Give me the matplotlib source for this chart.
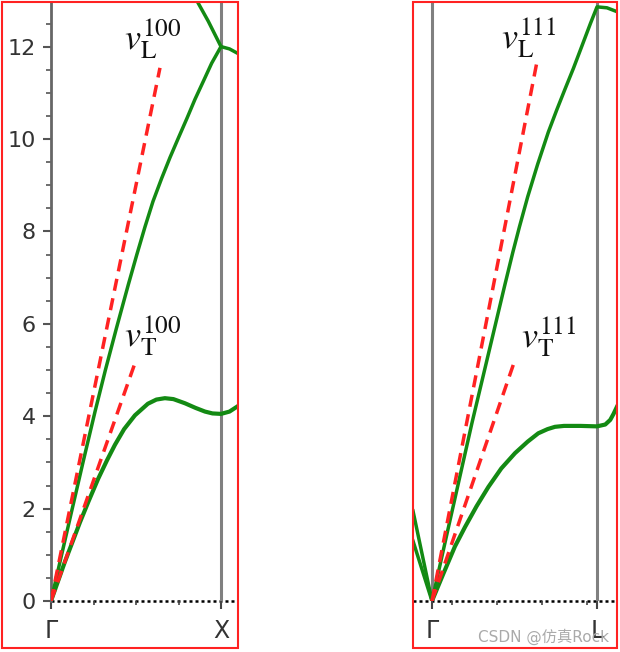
import matplotlib.pyplot as plt
from matplotlib.patches import Rectangle
from matplotlib.ticker import MultipleLocator, FixedLocator

plt.rcParams['mathtext.fontset'] = 'stix'
plt.rcParams['font.family'] = ['DejaVu Sans', 'Noto Sans CJK SC']

# Gamma -> X panel (k along the path, Gamma = 0, X = 1), frequencies in THz
gx_la_k = [0, 0.06, 0.12, 0.19, 0.259, 0.32, 0.386, 0.455, 0.505, 0.553, 0.6, 0.651, 0.7, 0.749, 0.8, 0.847,
           0.9, 0.945, 1.0, 1.05, 1.1]
gx_la_w = [0, 0.96, 1.92, 3.03, 4.1, 5.0, 5.92, 6.85, 7.5, 8.1, 8.65, 9.15, 9.6, 10.02, 10.45, 10.86,
           11.28, 11.64, 12.0, 11.95, 11.85]
gx_up_k = [0.857, 0.925, 1.0]
gx_up_w = [13.0, 12.55, 12.0]
gx_ta_k = [0, 0.08, 0.17, 0.22, 0.278, 0.33, 0.376, 0.43, 0.494, 0.57, 0.62, 0.67, 0.72, 0.788, 0.85, 0.906,
           0.95, 1.0, 1.05, 1.1]
gx_ta_w = [0, 0.83, 1.7, 2.15, 2.65, 3.05, 3.38, 3.72, 4.02, 4.27, 4.36, 4.39, 4.37, 4.28, 4.18, 4.1,
           4.06, 4.05, 4.1, 4.22]
gx_vl = [[0, 0.641], [0, 11.54]]
gx_vt = [[0, 0.494], [0, 5.15]]

# Gamma -> L panel
gl_la_k = [0, 0.1, 0.242, 0.342, 0.442, 0.49, 0.53, 0.58, 0.64, 0.705, 0.756, 0.806, 0.857, 0.907, 0.96,
           1.0, 1.06, 1.118]
gl_la_w = [0, 1.6, 3.85, 5.35, 6.85, 7.55, 8.1, 8.75, 9.45, 10.15, 10.63, 11.08, 11.53, 12.0, 12.5,
           12.86, 12.84, 12.76]
gl_ta_k = [0, 0.07, 0.139, 0.2, 0.27, 0.342, 0.42, 0.503, 0.58, 0.644, 0.7, 0.745, 0.8, 0.9, 1.0, 1.05,
           1.08, 1.1, 1.12]
gl_ta_w = [0, 0.6, 1.18, 1.6, 2.05, 2.47, 2.87, 3.2, 3.45, 3.63, 3.72, 3.77, 3.79, 3.79, 3.78, 3.82,
           3.92, 4.05, 4.2]
gl_left_k = [[-0.115, 0], [-0.115, 0]]
gl_left_w = [[1.95, 0], [1.3, 0]]
gl_vl = [[0, 0.636], [0, 11.67]]
gl_vt = [[0, 0.503], [0, 5.22]]

green = '#138a13'
red = '#ff2222'
gray = '#808080'

fig = plt.figure(figsize=(6.2, 6.52), dpi=100)
ax1 = fig.add_axes([51/620, 1-601/652, 187/620, 599/652])
ax2 = fig.add_axes([413/620, 1-601/652, 204/620, 599/652])

for ax in (ax1, ax2):
    ax.set_ylim(0, 599/46.2)
    for s in ax.spines.values():
        s.set_visible(False)
    ax.axhline(0, color='black', lw=1.8, dashes=(1.2, 1.2), clip_on=False, zorder=1)
    ax.tick_params(axis='x', which='major', length=6, width=1.5, color='#444444',
                   labelsize=17, pad=7, labelcolor='#333333')
    ax.tick_params(axis='x', which='minor', length=3, width=1.2, color='#444444')

# left panel
ax1.set_xlim(0, 1.1)
ax1.spines['left'].set_visible(True)
ax1.spines['left'].set_color('#666666')
ax1.spines['left'].set_linewidth(2)
ax1.yaxis.set_major_locator(MultipleLocator(2))
ax1.yaxis.set_minor_locator(MultipleLocator(0.5))
ax1.tick_params(axis='y', which='major', length=6, width=1.5, color='#555555',
                labelsize=16, labelcolor='#333333', pad=5)
ax1.tick_params(axis='y', which='minor', length=3.5, width=1.2, color='#555555')
ax1.set_xticks([0, 1.0])
ax1.set_xticklabels(['Γ', 'X'])
ax1.xaxis.set_minor_locator(FixedLocator([0.25, 0.5, 0.75]))
ax1.axvline(1.0, color=gray, lw=2.2, zorder=1)

ax1.plot(gx_la_k, gx_la_w, color=green, lw=2.5, zorder=3)
ax1.plot(gx_up_k, gx_up_w, color=green, lw=2.5, zorder=3)
ax1.plot(gx_ta_k, gx_ta_w, color=green, lw=3, zorder=3)
ax1.plot(gx_vl[0], gx_vl[1], color=red, lw=2.5, dashes=(3.5, 2.2), zorder=4)
ax1.plot(gx_vt[0], gx_vt[1], color=red, lw=2.5, dashes=(3.5, 2.2), zorder=4)
ax1.text(0.43, 11.93, r'$v_{\rm L}^{100}$', fontsize=26, color='#111111')
ax1.text(0.43, 5.5, r'$v_{\rm T}^{100}$', fontsize=26, color='#111111')

# right panel
ax2.set_xlim(-0.115, 1.121)
ax2.set_yticks([])
ax2.set_xticks([0, 1.0])
ax2.set_xticklabels(['Γ', 'L'])
ax2.xaxis.set_minor_locator(FixedLocator([0.121, 0.394, 0.667, 0.939]))
ax2.axvline(0, color=gray, lw=2.2, zorder=1)
ax2.axvline(1.0, color=gray, lw=2.2, zorder=1)

for k, w in zip(gl_left_k, gl_left_w):
    ax2.plot(k, w, color=green, lw=2.5, zorder=3)
ax2.plot(gl_la_k, gl_la_w, color=green, lw=2.5, zorder=3)
ax2.plot(gl_ta_k, gl_ta_w, color=green, lw=3, zorder=3)
ax2.plot(gl_vl[0], gl_vl[1], color=red, lw=2.5, dashes=(3.5, 2.2), zorder=4)
ax2.plot(gl_vt[0], gl_vt[1], color=red, lw=2.5, dashes=(3.5, 2.2), zorder=4)
ax2.text(0.42, 11.97, r'$v_{\rm L}^{111}$', fontsize=26, color='#111111')
ax2.text(0.54, 5.48, r'$v_{\rm T}^{111}$', fontsize=26, color='#111111')

# red frames around the two panels
fig.patches.append(Rectangle((2/620, 1-648/652), 236/620, 646/652, transform=fig.transFigure,
                             fill=False, ec=red, lw=1.5, zorder=10))
fig.patches.append(Rectangle((413/620, 1-648/652), 204/620, 646/652, transform=fig.transFigure,
                             fill=False, ec=red, lw=1.5, zorder=10))

fig.text(478/620, 1-637/652, 'CSDN @仿真Rock', fontsize=11, color='#aaaaaa', va='center')

fig.savefig('out.png', dpi=100)
